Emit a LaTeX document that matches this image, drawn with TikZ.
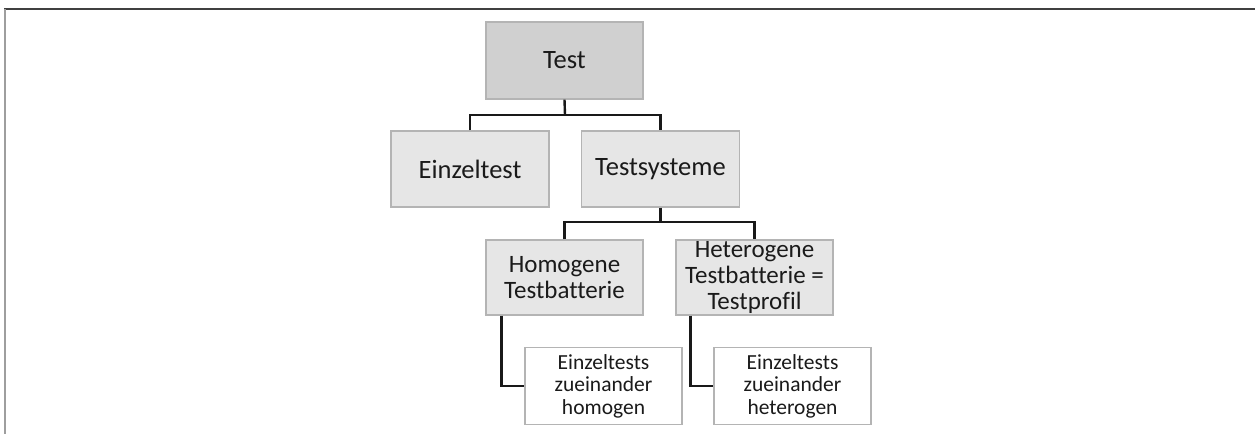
\documentclass[tikz,border=0pt]{standalone}
\usepackage{fontspec}
\setmainfont{Carlito}[Ligatures=NoCommon]
\usetikzlibrary{calc}
\definecolor{rootfill}{HTML}{D0D0D0}
\definecolor{boxfill}{HTML}{E6E6E6}
\definecolor{boxline}{HTML}{B4B4B4}
\definecolor{inkgray}{HTML}{1A1A1A}
\tikzset{
  box/.style={draw=boxline, line width=1.4pt, rectangle, align=center,
    inner sep=0pt, text=inkgray},
  rootbox/.style={box, fill=rootfill, minimum width=157pt, minimum height=77pt,
    font=\fontsize{26.5}{27.5}\selectfont},
  topbox/.style={box, fill=boxfill, minimum width=158pt, minimum height=76pt,
    font=\fontsize{26.5}{27.5}\selectfont},
  midbox/.style={box, fill=boxfill, minimum width=157pt, minimum height=75pt,
    font=\fontsize{25}{26}\selectfont},
  leafbox/.style={box, fill=white, minimum width=157pt, minimum height=77pt,
    font=\fontsize{21.5}{22.5}\selectfont},
  conn/.style={draw=black!90, line width=2.4pt}
}
\begin{document}
\begin{tikzpicture}[x=1pt, y=-1pt]
  \useasboundingbox (0,0) rectangle (1255,434);
  % page frame
  \draw[draw=black!75, line width=1.2pt] (4,9) -- (1255,9);
  \draw[draw=black!38, line width=2pt] (5,9) -- (5,434);

  % boxes
  \node[rootbox] (test) at (564.5,60.5) {Test};
  \node[topbox] (einzel) at (470,169) {Einzeltest};
  \node[topbox] (testsys) at (660.5,169) {Testsysteme};
  \node[midbox] (homog) at (564.5,277.5) {Homogene\\Testbatterie};
  \node[midbox] (hetero) at (754.5,277.5) {Heterogene\\Testbatterie =\\Testprofil};
  \node[leafbox] (leafhom) at (603.5,386) {Einzeltests\\zueinander\\homogen};
  \node[leafbox] (leafhet) at (792.5,386) {Einzeltests\\zueinander\\heterogen};

  % junctions
  \coordinate (busA) at (565,115);
  \coordinate (busB) at (660.5,222);

  % connectors
  \draw[conn] (test.south) -- (busA);
  \draw[conn] (einzel.north) |- (busA) -| (testsys.north);
  \draw[conn] (testsys.south) -- (busB);
  \draw[conn] (homog.north) |- (busB) -| (hetero.north);
  \draw[conn] ($(homog.south west)+(16,0)$) |- (leafhom.west);
  \draw[conn] ($(hetero.south west)+(15,0)$) |- (leafhet.west);
\end{tikzpicture}
\end{document}
